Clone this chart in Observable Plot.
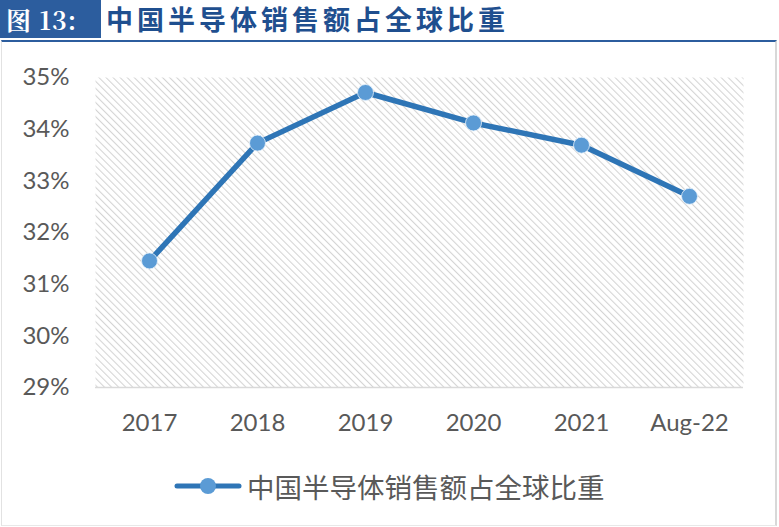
<!DOCTYPE html>
<html><head><meta charset="utf-8">
<script src="https://cdn.jsdelivr.net/npm/d3@7"></script>
<script src="https://cdn.jsdelivr.net/npm/@observablehq/plot@0.6"></script>
<style>
body{margin:0;background:#fff;}
#wrap{position:relative;width:779px;height:527px;overflow:hidden;background:#fff;font-family:"Noto Sans CJK SC",sans-serif;}
#tag{position:absolute;left:0;top:0;width:101px;height:38px;background:#2c5d9e;color:#fff;font-family:"Noto Serif CJK SC","Noto Sans CJK SC",serif;font-weight:bold;font-size:25px;line-height:38px;padding-left:6px;box-sizing:border-box;letter-spacing:1px;}
#title{position:absolute;left:106px;top:0;height:38px;line-height:38px;color:#1f4f8f;font-weight:bold;font-size:27px;letter-spacing:4px;}
#box{position:absolute;left:1px;top:40px;width:776px;height:486px;border-top:2px solid #2c5d9e;border-left:1px solid #e2e2e2;border-right:2px solid #d8d8d8;border-bottom:1px solid #e8e8e8;box-sizing:border-box;}
#chart{position:absolute;left:0;top:43px;}
#legend{position:absolute;left:174px;top:466px;height:40px;display:flex;align-items:center;color:#595959;font-size:27.5px;}
</style></head>
<body><div id="wrap">
<div id="tag">图 13:</div>
<div id="title">中国半导体销售额占全球比重</div>
<div id="box"></div>
<div id="chart"></div>
<div id="legend"><svg width="70" height="20" style="margin-right:3px"><line x1="3" y1="10" x2="65" y2="10" stroke="#2e75b6" stroke-width="5" stroke-linecap="round"/><circle cx="34" cy="10" r="8" fill="#5b9bd5"/></svg><span>中国半导体销售额占全球比重</span></div>
</div>
<script>
const categories = ["2017","2018","2019","2020","2021","Aug-22"];
const shares = [31.45, 33.73, 34.71, 34.12, 33.69, 32.70];
const yTicks = [29,30,31,32,33,34,35];
const seriesName = "中国半导体销售额占全球比重";

const data = categories.map((c,i)=>({cat:c, v:shares[i], s:seriesName}));

const chart = Plot.plot({
  width: 779, height: 400,
  marginTop: 34, marginBottom: 56, marginLeft: 95, marginRight: 36,
  style:{fontFamily:"Lato, 'Open Sans', sans-serif", fontSize:"24px", color:"#595959", background:"transparent"},
  x:{type:"point", domain:categories, padding:0.5, label:null},
  y:{domain:[29,35], label:null},
  marks:[
    Plot.frame({fill:"url(#hatch)", stroke:null}),
    Plot.ruleY([29],{stroke:"#d9d9d9", strokeWidth:1.5}),
    Plot.axisX({tickSize:0, tickPadding:26, fontSize:24, fill:"#595959"}),
    Plot.axisY({ticks:yTicks, tickFormat:d=>d+"%", tickSize:0, tickPadding:26, fontSize:24, fill:"#595959"}),
    Plot.line(data,{x:"cat", y:"v", stroke:"#2e75b6", strokeWidth:5.5, strokeLinejoin:"round", strokeLinecap:"round"}),
    Plot.dot(data,{x:"cat", y:"v", r:8, fill:"#5b9bd5", stroke:"#e8f2fb", strokeWidth:0.8})
  ]
});
const defs = d3.select(chart).insert("defs",":first-child");
const pat = defs.append("pattern").attr("id","hatch").attr("patternUnits","userSpaceOnUse")
  .attr("width",5).attr("height",5).attr("patternTransform","rotate(-45)");
pat.append("rect").attr("width",5).attr("height",5).attr("fill","#ffffff");
pat.append("line").attr("x1",0.5).attr("y1",0).attr("x2",0.5).attr("y2",5).attr("stroke","#d4d4d4").attr("stroke-width",1.1);
document.getElementById("chart").appendChild(chart);
</script>
</body></html>
